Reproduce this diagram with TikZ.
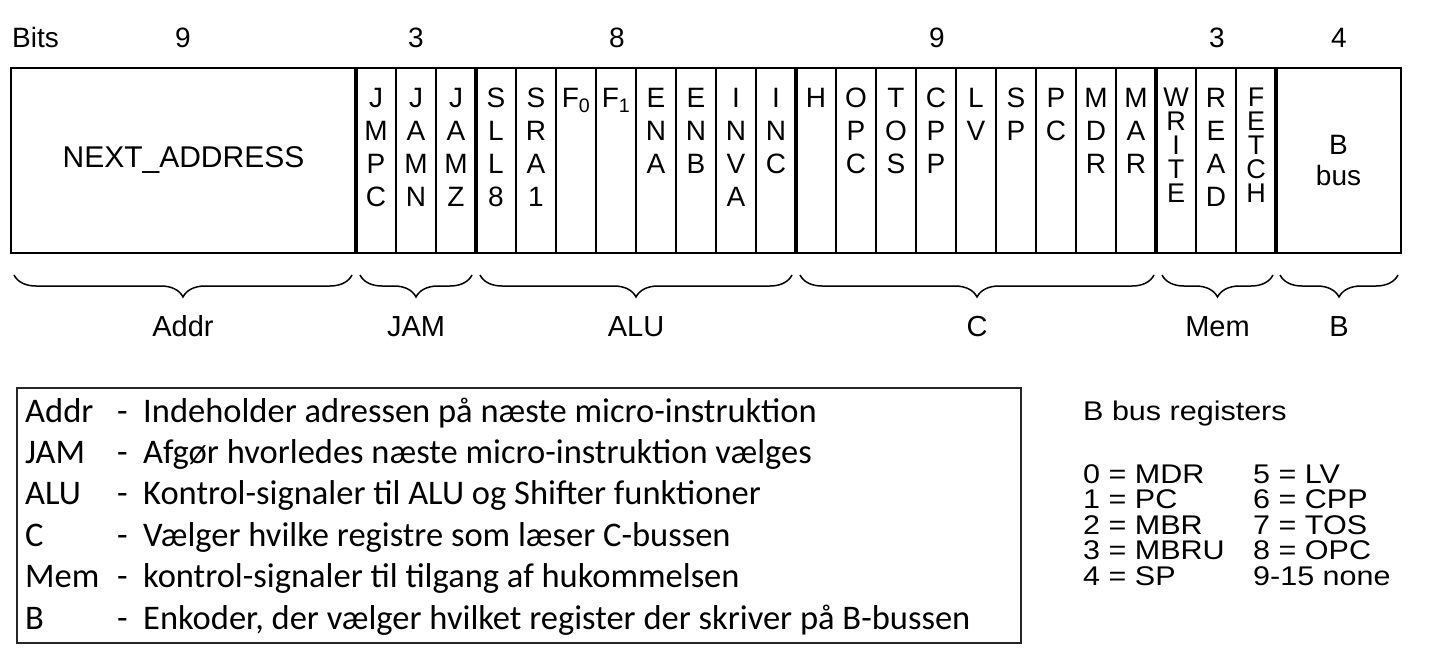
\documentclass[tikz,border=0pt]{standalone}
\usepackage{graphicx}
\usepackage{fontspec}
\setmainfont{Liberation Sans}
\newfontfamily\legendfont{Carlito}
\usetikzlibrary{positioning,decorations.pathreplacing}
\tikzset{
field/.style = {draw, line width=1.5pt, rectangle, inner sep=0pt, outer sep=0pt, minimum height=185pt},
cell/.style = {field, minimum width=40pt},
bits/.style = {inner sep=0pt, align=center, font=\fontsize{28}{33}\selectfont},
tightbits/.style = {bits, font=\fontsize{27}{24}\selectfont},
thicksep/.style = {line width=4pt},
bitsnum/.style = {anchor=base, inner sep=0pt, font=\fontsize{28}{33}\selectfont},
grp/.style = {decorate, decoration={brace, mirror, amplitude=22pt}, line width=1.5pt},
grplabel/.style = {anchor=base, inner sep=0pt, font=\fontsize{29}{33}\selectfont},
legendtxt/.style = {anchor=base west, inner sep=0pt, font=\legendfont\fontsize{34.5}{40}\selectfont},
regtxt/.style = {anchor=base west, inner sep=0pt, font=\fontsize{27}{26}\selectfont}
}
\newcommand{\wide}[1]{\scalebox{1.13}[1]{#1}}
\begin{document}
\begin{tikzpicture}[x=1pt, y=-1pt]
    \useasboundingbox (0,0) rectangle (1432,653);
    % We start by placing the fields of the micro-instruction
    \node [field, minimum width=345pt, font=\fontsize{30}{33}\selectfont] (addr) at (183.5,160.5) {NEXT\_ADDRESS};
    \foreach \name/\sty/\txt [remember=\name as \prev (initially addr)] in {
        jmpc/bits/{J\\M\\P\\C}, jamn/bits/{J\\A\\M\\N}, jamz/bits/{J\\A\\M\\Z},
        sll/bits/{S\\L\\L\\8}, sra/bits/{S\\R\\A\\1}, fzero/bits/{F\textsubscript{0}}, fone/bits/{F\textsubscript{1}},
        ena/bits/{E\\N\\A}, enb/bits/{E\\N\\B}, inva/bits/{I\\N\\V\\A}, inc/bits/{I\\N\\C},
        h/bits/H, opc/bits/{O\\P\\C}, tos/bits/{T\\O\\S}, cpp/bits/{C\\P\\P}, lv/bits/{L\\V},
        sp/bits/{S\\P}, pc/bits/{P\\C}, mdr/bits/{M\\D\\R}, mar/bits/{M\\A\\R},
        write/tightbits/{W\\R\\I\\T\\E}, read/bits/{R\\E\\A\\D}, fetch/tightbits/{F\\E\\T\\C\\H}}
    {
        \node [cell, right=0pt of \prev] (\name) {};
        \node [\sty, below=20pt of \name.north] (\name-txt) {\txt};
    }
    \node [field, minimum width=125pt, align=center, font=\fontsize{28}{31}\selectfont, right=0pt of fetch] (bbus) {B\\bus};

    % group separators and outer frame
    \foreach \s in {jmpc,sll,h,write,bbus}
        \draw [thicksep] (\s.north west) -- (\s.south west);
    \draw [line width=2pt] (addr.north west) rectangle (bbus.south east);

    % bit counts
    \node [bitsnum, anchor=base west] (bitshead) at (12,47) {Bits};
    \node [bitsnum] (naddr) at (183,47) {9};
    \node [bitsnum] (njam) at (416,47) {3};
    \node [bitsnum] (nalu) at (617,47) {8};
    \node [bitsnum] (nc) at (937,47) {9};
    \node [bitsnum] (nmem) at (1217,47) {3};
    \node [bitsnum] (nb) at (1339,47) {4};

    % braces under the groups
    \foreach \a/\b/\lbl [count=\i] in {14/352/Addr, 360/472/JAM, 480/792/ALU, 800/1154/C, 1162/1273/Mem, 1280/1398/B}
    {
        \draw [grp] (\a,275) -- (\b,275);
        \node [grplabel] (grp\i) at ({(\a+\b)/2},336) {\lbl};
    }

    % legend
    \node [draw, line width=1.5pt, black!85, minimum width=1004pt, minimum height=255pt, anchor=north west, inner sep=0pt] (legendbox) at (16,387) {};
    \foreach \key/\desc [count=\i] in {
        Addr/{Indeholder adressen på næste micro-instruktion},
        JAM/{Afgør hvorledes næste micro-instruktion vælges},
        ALU/{Kontrol-signaler til ALU og Shifter funktioner},
        C/{Vælger hvilke registre som læser C-bussen},
        Mem/{kontrol-signaler til tilgang af hukommelsen},
        B/{Enkoder, der vælger hvilket register der skriver på B-bussen}}
    {
        \node [legendtxt] (key\i) at (25,{380.6+41.4*\i}) {\key};
        \node [legendtxt] (dash\i) at (117,{380.6+41.4*\i}) {-};
        \node [legendtxt] (desc\i) at (143,{380.6+41.4*\i}) {\desc};
    }

    % B bus registers
    \node [regtxt] (regs) at (1083,420) {\wide{B bus registers}};
    \foreach \l/\r [count=\i] in {0 = MDR/5 = LV, 1 = PC/6 = CPP, 2 = MBR/7 = TOS, 3 = MBRU/8 = OPC, 4 = SP/9-15 none}
    {
        \node [regtxt] (regl\i) at (1083,{457.5+25.5*\i}) {\wide{\l}};
        \node [regtxt] (regr\i) at (1253,{457.5+25.5*\i}) {\wide{\r}};
    }
\end{tikzpicture}
\end{document}
